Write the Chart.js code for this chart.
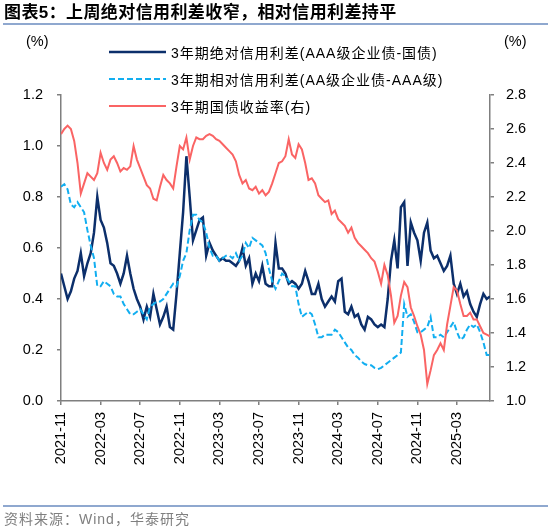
<!DOCTYPE html>
<html lang="zh-CN">
<head>
<meta charset="UTF-8" />
<title>图表5：上周绝对信用利差收窄，相对信用利差持平</title>
<script src="https://cdn.jsdelivr.net/npm/chart.js"></script>
<style>
  body { margin: 0; background: #fff; font-family: "Liberation Sans", Arial, "Noto Sans CJK SC", sans-serif; }
  #wrap { position: relative; width: 550px; height: 529px; overflow: hidden; }
  canvas { position: absolute; left: 0; top: 0; }
  .title { position: absolute; left: 4px; top: 3px; font-size: 17px; line-height: 20px; font-weight: bold; letter-spacing: 0.4px; white-space: nowrap; color: #000; }
  .rule { position: absolute; left: 3px; width: 545px; background: #8fa8cf; }
  .unit { position: absolute; top: 32px; font-size: 14.5px; line-height: 18px; color: #000; }
  .legend { position: absolute; left: 109px; top: 38px; font-size: 14px; letter-spacing: 1px; color: #000; }
  .legend .row { display: flex; align-items: center; height: 27px; white-space: nowrap; }
  .legend svg { margin-right: 5px; }
  .source { position: absolute; left: 4px; top: 510px; font-size: 14px; line-height: 18px; letter-spacing: 1px; color: #7f7f7f; white-space: nowrap; }
</style>
</head>
<body>
<div id="wrap">
  <canvas id="myChart" width="550" height="529"></canvas>
  <div class="title">图表5：上周绝对信用利差收窄，相对信用利差持平</div>
  <div class="rule" style="top:22.5px;height:2px;"></div>
  <div class="unit" style="left:26px;">(%)</div>
  <div class="unit" style="left:504px;">(%)</div>
  <div class="legend" id="legend"></div>
  <div class="rule" style="top:505px;height:1.5px;"></div>
  <div class="source">资料来源：Wind，华泰研究</div>
</div>

<script>
  // 10-day sampling points
  const dates = [
    '2021-11-01','2021-11-11','2021-11-21','2021-12-01','2021-12-11','2021-12-21',
    '2022-01-01','2022-01-11','2022-01-21','2022-02-01','2022-02-11','2022-02-21',
    '2022-03-01','2022-03-11','2022-03-21','2022-04-01','2022-04-11','2022-04-21',
    '2022-05-01','2022-05-11','2022-05-21','2022-06-01','2022-06-11','2022-06-21',
    '2022-07-01','2022-07-11','2022-07-21','2022-08-01','2022-08-11','2022-08-21',
    '2022-09-01','2022-09-11','2022-09-21','2022-10-01','2022-10-11','2022-10-21',
    '2022-11-01','2022-11-11','2022-11-21','2022-12-01','2022-12-11','2022-12-21',
    '2023-01-01','2023-01-11','2023-01-21','2023-02-01','2023-02-11','2023-02-21',
    '2023-03-01','2023-03-11','2023-03-21','2023-04-01','2023-04-11','2023-04-21',
    '2023-05-01','2023-05-11','2023-05-21','2023-06-01','2023-06-11','2023-06-21',
    '2023-07-01','2023-07-11','2023-07-21','2023-08-01','2023-08-11','2023-08-21',
    '2023-09-01','2023-09-11','2023-09-21','2023-10-01','2023-10-11','2023-10-21',
    '2023-11-01','2023-11-11','2023-11-21','2023-12-01','2023-12-11','2023-12-21',
    '2024-01-01','2024-01-11','2024-01-21','2024-02-01','2024-02-11','2024-02-21',
    '2024-03-01','2024-03-11','2024-03-21','2024-04-01','2024-04-11','2024-04-21',
    '2024-05-01','2024-05-11','2024-05-21','2024-06-01','2024-06-11','2024-06-21',
    '2024-07-01','2024-07-11','2024-07-21','2024-08-01','2024-08-11','2024-08-21',
    '2024-09-01','2024-09-11','2024-09-21','2024-10-01','2024-10-11','2024-10-21',
    '2024-11-01','2024-11-11','2024-11-21','2024-12-01','2024-12-11','2024-12-21',
    '2025-01-01','2025-01-11','2025-01-21','2025-02-01','2025-02-11','2025-02-21',
    '2025-03-01','2025-03-11','2025-03-21','2025-04-01','2025-04-11','2025-04-21',
    '2025-05-01','2025-05-11','2025-05-21','2025-06-01','2025-06-11'
  ];

  // 3年期绝对信用利差(AAA级企业债-国债), left axis
  const absSpread = [
    0.50,0.45,0.40,0.43,0.48,
    0.51,0.58,0.49,0.54,0.58,0.66,0.80,0.71,0.68,0.62,0.54,0.53,0.50,0.46,0.50,0.57,0.50,
    0.44,0.40,0.37,0.32,0.37,0.33,0.42,0.36,0.30,0.33,0.37,0.29,0.28,0.42,0.58,0.74,0.96,
    0.80,0.63,0.67,0.71,0.72,0.57,0.62,0.59,0.57,0.55,0.56,0.55,0.55,0.54,0.53,0.55,0.60,
    0.53,0.56,0.46,0.50,0.47,0.53,0.46,0.45,0.45,0.62,0.52,0.52,0.50,0.46,0.47,0.46,0.44,
    0.46,0.51,0.47,0.42,0.42,0.46,0.40,0.37,0.39,0.41,0.39,0.47,0.48,0.35,0.34,0.37,
    0.33,0.34,0.30,0.28,0.33,0.32,0.30,0.29,0.30,0.29,0.40,0.55,0.63,0.52,0.76,0.78,0.53,
    0.70,0.66,0.63,0.55,0.66,0.70,0.59,0.56,0.57,0.54,0.51,0.53,0.57,0.46,0.42,0.46,0.41,
    0.43,0.38,0.35,0.33,0.38,0.42,0.40,0.41
  ];

  // 3年期相对信用利差(AA级企业债-AAA级), left axis
  const relSpread = [
    0.84,0.85,0.83,0.77,0.76,
    0.78,0.76,0.74,0.67,0.61,0.56,0.45,0.45,0.47,0.46,0.45,0.42,0.41,0.41,0.38,0.36,0.34,
    0.34,0.35,0.36,0.34,0.32,0.37,0.38,0.39,0.39,0.40,0.42,0.44,0.46,0.45,0.49,0.55,0.58,
    0.67,0.73,0.73,0.71,0.70,0.66,0.60,0.57,0.57,0.55,0.56,0.57,0.57,0.56,0.58,0.55,0.57,
    0.62,0.60,0.64,0.63,0.62,0.61,0.58,0.52,0.47,0.44,0.47,0.50,0.49,0.47,0.45,0.45,0.38,
    0.33,0.34,0.35,0.34,0.30,0.25,0.25,0.26,0.26,0.26,0.28,0.27,0.25,0.23,0.21,0.20,
    0.18,0.17,0.155,0.145,0.14,0.14,0.13,0.125,0.13,0.14,0.15,0.16,0.17,0.18,0.19,0.38,0.33,
    0.34,0.31,0.27,0.27,0.28,0.29,0.33,0.25,0.25,0.26,0.25,0.27,0.29,0.31,0.27,0.24,0.25,
    0.28,0.30,0.29,0.30,0.27,0.23,0.18,0.18
  ];

  // 3年期国债收益率, right axis
  const cgb3y = [
    2.57,2.60,2.62,2.60,2.53,
    2.40,2.22,2.28,2.34,2.32,2.30,2.34,2.46,2.40,2.36,2.42,2.44,2.40,2.35,2.37,2.36,2.38,
    2.50,2.42,2.37,2.32,2.27,2.25,2.19,2.18,2.26,2.33,2.30,2.28,2.25,2.38,2.50,2.48,2.55,
    2.42,2.50,2.55,2.54,2.54,2.56,2.57,2.56,2.54,2.53,2.51,2.49,2.47,2.45,2.41,2.33,2.28,
    2.30,2.25,2.24,2.26,2.22,2.24,2.21,2.23,2.28,2.34,2.40,2.41,2.44,2.54,2.45,2.43,2.51,
    2.48,2.40,2.30,2.31,2.28,2.21,2.19,2.17,2.18,2.10,2.12,2.07,2.05,2.03,1.99,2.02,
    1.96,1.93,1.91,1.89,1.87,1.84,1.82,1.76,1.69,1.80,1.74,1.62,1.46,1.50,1.62,1.70,1.67,
    1.55,1.50,1.44,1.39,1.30,1.10,1.18,1.27,1.30,1.34,1.30,1.45,1.56,1.67,1.65,1.57,1.50,
    1.50,1.52,1.48,1.48,1.44,1.40,1.39,1.38
  ];

  const xTickLabels = ['2021-11','2022-03','2022-07','2022-11','2023-03','2023-07',
                       '2023-11','2024-03','2024-07','2024-11','2025-03'];

  const seriesNames = [
    '3年期绝对信用利差(AAA级企业债-国债)',
    '3年期相对信用利差(AA级企业债-AAA级)',
    '3年期国债收益率(右)'
  ];

  const DARK = '#0c2f6b', LIGHT = '#12aef0', RED = '#fa6464', AXIS = '#7f7f7f';

  // months since 2021-11-01
  function monthIndex(s) {
    const [y, m, d] = s.split('-').map(Number);
    return (y - 2021) * 12 + (m - 11) + (d - 1) / 30;
  }
  function toPoints(arr) {
    return arr.map((v, i) => ({ x: monthIndex(dates[i]), y: v }));
  }

  const FONT = '"Liberation Sans", Arial, "Noto Sans CJK SC", sans-serif';
  Chart.defaults.font.family = FONT;
  Chart.defaults.color = '#000';

  const datasets = [
    { label: seriesNames[0], data: toPoints(absSpread), yAxisID: 'y', borderColor: DARK, borderWidth: 2.5, order: 2, dash: [] },
    { label: seriesNames[1], data: toPoints(relSpread), yAxisID: 'y', borderColor: LIGHT, borderWidth: 2, borderDash: [6, 3], order: 1, dash: [6, 3] },
    { label: seriesNames[2], data: toPoints(cgb3y), yAxisID: 'y1', borderColor: RED, borderWidth: 2, order: 0, dash: [] }
  ];
  datasets.forEach(d => { d.pointRadius = 0; d.fill = false; d.tension = 0; d.backgroundColor = d.borderColor; });

  // html legend
  const legend = document.getElementById('legend');
  datasets.forEach(d => {
    const row = document.createElement('div');
    row.className = 'row';
    row.innerHTML = '<svg width="57" height="6"><line x1="0" y1="3" x2="57" y2="3" stroke="' + d.borderColor +
      '" stroke-width="' + d.borderWidth + '" stroke-dasharray="' + (d.dash.length ? d.dash.join(',') : 'none') + '"/></svg>';
    const span = document.createElement('span');
    span.textContent = d.label;
    row.appendChild(span);
    legend.appendChild(row);
  });

  const tickFont = { size: 14.5, family: FONT };
  const yGrid = { drawOnChartArea: false, drawTicks: true, tickLength: 4, color: AXIS, lineWidth: 1.5 };

  new Chart(document.getElementById('myChart').getContext('2d'), {
    type: 'line',
    data: { datasets },
    options: {
      responsive: false,
      animation: false,
      layout: { padding: { top: 95, bottom: 58, left: 0, right: 0 } },
      plugins: { legend: { display: false }, tooltip: { enabled: false } },
      scales: {
        x: {
          type: 'linear',
          min: 0,
          max: monthIndex(dates[dates.length - 1]),
          afterBuildTicks: scale => { scale.ticks = xTickLabels.map((_, i) => ({ value: i * 4 })); },
          afterFit: scale => { scale.height = 70; },
          ticks: {
            autoSkip: false, maxRotation: 90, minRotation: 90, padding: 7, font: tickFont,
            callback: v => xTickLabels[Math.round(v / 4)] || ''
          },
          grid: { drawOnChartArea: false, drawTicks: true, tickLength: 4, color: AXIS, lineWidth: 1.5 },
          border: { display: true, color: AXIS, width: 1.5 }
        },
        y: {
          position: 'left',
          min: 0, max: 1.2,
          afterFit: scale => { scale.width = 61; },
          ticks: { stepSize: 0.2, padding: 14, font: tickFont, callback: v => v.toFixed(1) },
          grid: yGrid,
          border: { display: true, color: AXIS, width: 1.5 }
        },
        y1: {
          position: 'right',
          min: 1.0, max: 2.8,
          afterFit: scale => { scale.width = 60; },
          ticks: { stepSize: 0.2, padding: 12, font: tickFont, callback: v => v.toFixed(1) },
          grid: yGrid,
          border: { display: true, color: AXIS, width: 1.5 }
        }
      }
    }
  });
</script>
</body>
</html>
